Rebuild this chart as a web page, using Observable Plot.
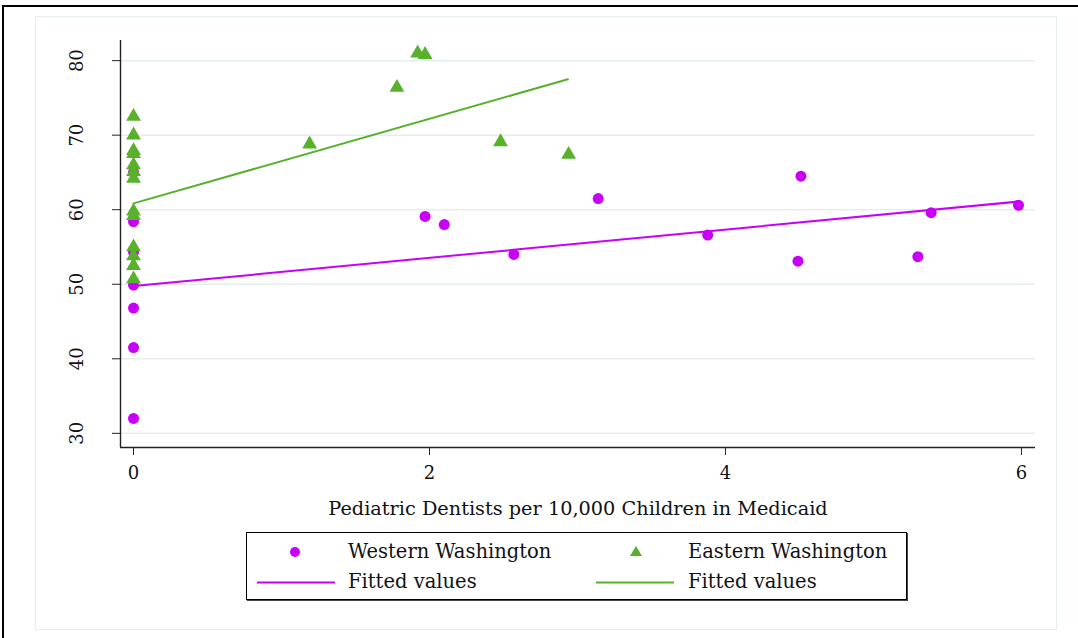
<!DOCTYPE html>
<html>
<head>
<meta charset="utf-8">
<script src="https://cdn.jsdelivr.net/npm/d3@7"></script>
<script src="https://cdn.jsdelivr.net/npm/@observablehq/plot@0.6"></script>
<style>
  html, body { margin: 0; padding: 0; background: #fff; }
  #wrap { position: relative; width: 1078px; height: 638px; overflow: hidden; background: #fff; }
  #outer { position: absolute; left: 2px; top: 5px; width: 1200px; height: 800px; border: 2px solid #000; box-sizing: border-box; }
  #panel { position: absolute; left: 35px; top: 16px; width: 1022px; height: 614px; border: 1px solid #e6eded; box-sizing: border-box; }
  #chart { position: absolute; left: 0; top: 0; }
  #legend { position: absolute; left: 246px; top: 532px; width: 661px; height: 68px; border: 1px solid #000; box-sizing: border-box; box-shadow: 1px 1px 0 #444; background: #fff; font-family: 'DejaVu Serif', serif; font-size: 19.5px; color: #111; }
  #legend .item { position: absolute; white-space: nowrap; line-height: 1; }
  #legend svg { position: absolute; overflow: visible; }
</style>
</head>
<body>
<div id="wrap">
  <div id="outer"></div>
  <div id="panel"></div>
  <div id="chart"></div>
  <div id="legend"></div>
</div>
<script>
// ---- data ----
const westX = [0, 0, 0, 0, 0, 0, 0, 1.97, 2.10, 2.57, 3.14, 3.88, 4.49, 4.51, 5.30, 5.39, 5.98];
const westY = [65.0, 58.4, 54.3, 49.9, 46.8, 41.5, 32.0, 59.1, 58.0, 54.0, 61.5, 56.6, 53.1, 64.5, 53.7, 59.6, 60.6];
const eastX = [0, 0, 0, 0, 0, 0, 0, 0, 0, 0, 0, 0, 0, 1.19, 1.78, 1.92, 1.97, 2.48, 2.94];
const eastY = [72.5, 70.0, 67.9, 67.5, 66.0, 65.1, 64.2, 59.8, 59.2, 55.0, 53.8, 52.5, 50.7, 68.8, 76.4, 81.0, 80.8, 69.1, 67.4];
const westFitX = [0, 5.985];
const westFitY = [49.75, 61.1];
const eastFitX = [0, 2.935];
const eastFitY = [60.85, 77.5];
const xTicks = [0, 2, 4, 6];
const yTicks = [30, 40, 50, 60, 70, 80];
const xTitle = "Pediatric Dentists per 10,000 Children in Medicaid";
const seriesNames = ["Western Washington", "Eastern Washington", "Fitted values", "Fitted values"];

// ---- styling ----
const FONT = "'DejaVu Serif', serif";
const PURPLE = "#c800fa";
const GREEN = "#58b02b";
const GRID = "#e6eded";
const xDomain = [-0.088, 6.095];
const yDomain = [28.1, 82.7];

const west = westX.map((x, i) => ({x, y: westY[i]}));
const east = eastX.map((x, i) => ({x, y: eastY[i]}));
const westFit = westFitX.map((x, i) => ({x, y: westFitY[i]}));
const eastFit = eastFitX.map((x, i) => ({x, y: eastFitY[i]}));

const chart = Plot.plot({
  width: 1078,
  height: 638,
  marginLeft: 120,
  marginRight: 43,
  marginTop: 40,
  marginBottom: 191,
  style: {background: "transparent", fontFamily: FONT, color: "#111", overflow: "visible"},
  x: {domain: xDomain},
  y: {domain: yDomain},
  marks: [
    Plot.gridY(yTicks, {stroke: GRID, strokeOpacity: 1, strokeWidth: 1.5}),
    Plot.ruleX([xDomain[0]], {stroke: "#222", strokeWidth: 1.4}),
    Plot.ruleY([yDomain[0]], {stroke: "#222", strokeWidth: 1.4}),
    Plot.axisX(xTicks, {tickSize: 8, tickPadding: 11, fontSize: 18, label: null, tickFormat: d => String(d), stroke: "#222"}),
    Plot.axisY(yTicks, {tickSize: 8, label: null, tickFormat: () => "", stroke: "#222"}),
    Plot.text(yTicks, {y: d => d, text: d => String(d), frameAnchor: "left", dx: -43, rotate: -90, fontSize: 18, lineAnchor: "middle", textAnchor: "middle", fill: "#111"}),
    Plot.text([xTitle], {text: d => d, frameAnchor: "bottom", dy: 61, lineAnchor: "middle", fontSize: 19.3, fill: "#111"}),
    Plot.dot(west, {x: "x", y: "y", r: 5.5, fill: PURPLE, stroke: "none"}),
    Plot.dot(east, {x: "x", y: "y", r: 5.5, symbol: "triangle", fill: GREEN, stroke: "none"}),
    Plot.line(westFit, {x: "x", y: "y", stroke: PURPLE, strokeWidth: 2}),
    Plot.line(eastFit, {x: "x", y: "y", stroke: GREEN, strokeWidth: 2})
  ]
});
document.getElementById("chart").appendChild(chart);

// ---- legend ----
const legend = document.getElementById("legend");
const ns = "http://www.w3.org/2000/svg";
function addSvg(left, top, w, h, inner) {
  const s = document.createElementNS(ns, "svg");
  s.setAttribute("width", w); s.setAttribute("height", h);
  s.style.left = left + "px"; s.style.top = top + "px";
  s.innerHTML = inner;
  legend.appendChild(s);
}
function addText(left, top, t) {
  const d = document.createElement("div");
  d.className = "item";
  d.style.left = left + "px"; d.style.top = top + "px";
  d.textContent = t;
  legend.appendChild(d);
}
// symbols
addSvg(43, 14, 10, 10, `<circle cx="5" cy="5" r="5" fill="${PURPLE}"/>`);
addSvg(383, 13, 12, 10, `<path d="M6,0 L12,10 L0,10 Z" fill="${GREEN}"/>`);
addSvg(10, 48, 78, 4, `<line x1="0" y1="1.5" x2="78" y2="1.5" stroke="${PURPLE}" stroke-width="2"/>`);
addSvg(349, 48, 78, 4, `<line x1="0" y1="1.5" x2="78" y2="1.5" stroke="${GREEN}" stroke-width="2"/>`);
// labels
addText(101, 9, seriesNames[0]);
addText(441, 9, seriesNames[1]);
addText(101, 39, seriesNames[2]);
addText(441, 39, seriesNames[3]);
</script>
</body>
</html>
